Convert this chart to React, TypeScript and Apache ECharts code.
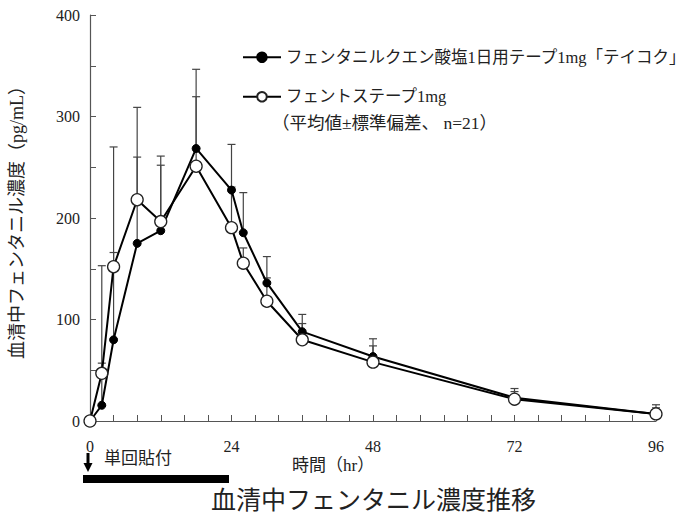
import React, { useEffect, useRef } from "react";
import * as echarts from "echarts";

const hours = [0, 2, 4, 8, 12, 18, 24, 26, 30, 36, 48, 72, 96];
const teikokuMean = [0, 15.5, 80, 175, 187.5, 268.5, 227.5, 185.5, 136, 88, 63.5, 23, 7];
const teikokuSD = [0, 41.5, 86, 85, 73.5, 78, 45, 39.5, 26, 17, 17.5, 9, 9];
const fentosMean = [0, 47, 152, 218, 196.5, 251, 190.5, 155.5, 118, 80, 58, 21.5, 7];
const fentosSD = [0, 106, 118, 91, 55.5, 68.5, 40, 15, 23, 16, 16, 7.5, 6];

const seriesNames = [
  "フェンタニルクエン酸塩1日用テープ1mg「テイコク」",
  "フェントステープ1mg",
];
const legendNote = "（平均値±標準偏差、 n=21）";
const yAxisName = "血清中フェンタニル濃度（pg/mL）";
const xAxisName = "時間（hr）";
const chartTitle = "血清中フェンタニル濃度推移";
const doseLabel = "単回貼付";

const FONT = "'Liberation Serif', 'Noto Sans CJK JP', serif";
const AXIS_COLOR = "#555";

export default function App() {
  const ref = useRef<HTMLDivElement>(null);
  useEffect(() => {
    if (!ref.current) return;
    const chart = echarts.init(ref.current, null, { renderer: "svg" });
    const pts = (m: number[]) => hours.map((h, i) => [h, m[i]]);
    const errData = (m: number[], sd: number[]) => hours.map((h, i) => [h, m[i], sd[i]]);
    const errRender = (params: any, api: any) => {
      const x = api.value(0);
      const m = api.value(1);
      const sd = api.value(2);
      if (!sd) return null;
      const p0 = api.coord([x, m]);
      const p1 = api.coord([x, m + sd]);
      const st = { stroke: "#444", lineWidth: 1.2 };
      return {
        type: "group",
        children: [
          { type: "line", shape: { x1: p0[0], y1: p0[1], x2: p1[0], y2: p1[1] }, style: st },
          { type: "line", shape: { x1: p1[0] - 4, y1: p1[1], x2: p1[0] + 4, y2: p1[1] }, style: st },
        ],
      };
    };
    chart.setOption({
      animation: false,
      backgroundColor: "#fff",
      textStyle: { fontFamily: FONT },
      title: {
        text: chartTitle,
        left: 206,
        top: 483,
        textStyle: { fontFamily: FONT, fontSize: 25, fontWeight: "normal", color: "#222" },
      },
      grid: { left: 90, right: 40, top: 15, bottom: 102 },
      legend: {
        orient: "vertical",
        left: 237,
        top: 44,
        itemWidth: 38,
        itemHeight: 12,
        itemGap: 23,
        data: seriesNames,
        textStyle: { fontFamily: FONT, fontSize: 16.5, color: "#222" },
      },
      xAxis: {
        type: "value",
        min: 0,
        max: 96,
        interval: 24,
        axisLine: { show: true, lineStyle: { color: AXIS_COLOR, width: 1.2 } },
        axisTick: { show: true, inside: true, length: 6, lineStyle: { color: AXIS_COLOR } },
        minorTick: { show: true, splitNumber: 6, length: 6, lineStyle: { color: AXIS_COLOR } },
        axisLabel: { fontFamily: FONT, fontSize: 16, color: "#222", margin: 17 },
        splitLine: { show: false },
      },
      yAxis: {
        type: "value",
        min: 0,
        max: 400,
        interval: 100,
        name: yAxisName,
        nameLocation: "middle",
        nameRotate: 90,
        nameGap: 64,
        nameTextStyle: { fontFamily: FONT, fontSize: 18, color: "#222" },
        axisLine: { show: true, lineStyle: { color: AXIS_COLOR, width: 1.2 } },
        axisTick: { show: true, inside: true, length: 6, lineStyle: { color: AXIS_COLOR } },
        minorTick: { show: true, splitNumber: 2, length: 6, lineStyle: { color: AXIS_COLOR } },
        axisLabel: { fontFamily: FONT, fontSize: 16, color: "#222", margin: 10 },
        splitLine: { show: false },
      },
      series: [
        {
          type: "custom",
          name: seriesNames[0] + " SD",
          renderItem: errRender,
          data: errData(teikokuMean, teikokuSD),
          z: 1,
        },
        {
          type: "custom",
          name: seriesNames[1] + " SD",
          renderItem: errRender,
          data: errData(fentosMean, fentosSD),
          z: 1,
        },
        {
          type: "line",
          name: seriesNames[0],
          data: pts(teikokuMean),
          symbol: "circle",
          symbolSize: 8,
          showAllSymbol: true,
          lineStyle: { color: "#000", width: 2 },
          itemStyle: { color: "#000", borderColor: "#000", borderWidth: 1 },
          z: 3,
        },
        {
          type: "line",
          name: seriesNames[1],
          data: pts(fentosMean),
          symbol: "circle",
          symbolSize: 12,
          showAllSymbol: true,
          lineStyle: { color: "#000", width: 2 },
          itemStyle: { color: "#fff", borderColor: "#222", borderWidth: 1.3 },
          z: 4,
        },
      ],
      graphic: [
        {
          type: "text",
          left: 272,
          top: 114,
          style: { text: legendNote, font: `17.5px ${FONT}`, fill: "#222" },
        },
        {
          type: "text",
          left: 292,
          top: 457,
          style: { text: xAxisName, font: `17px ${FONT}`, fill: "#222" },
        },
        {
          type: "text",
          left: 104,
          top: 450,
          style: { text: doseLabel, font: `17px ${FONT}`, fill: "#222" },
        },
        {
          type: "rect",
          shape: { x: 83, y: 475, width: 146, height: 8 },
          style: { fill: "#000" },
        },
        {
          type: "rect",
          shape: { x: 86.5, y: 453, width: 3, height: 12 },
          style: { fill: "#000" },
        },
        {
          type: "polygon",
          shape: { points: [[83.5, 463], [92.5, 463], [88, 472]] },
          style: { fill: "#000" },
        },
      ],
    });
    return () => chart.dispose();
  }, []);
  return (
    <div
      ref={ref}
      style={{ position: "fixed", left: 0, top: 0, width: 696, height: 523 }}
    />
  );
}
